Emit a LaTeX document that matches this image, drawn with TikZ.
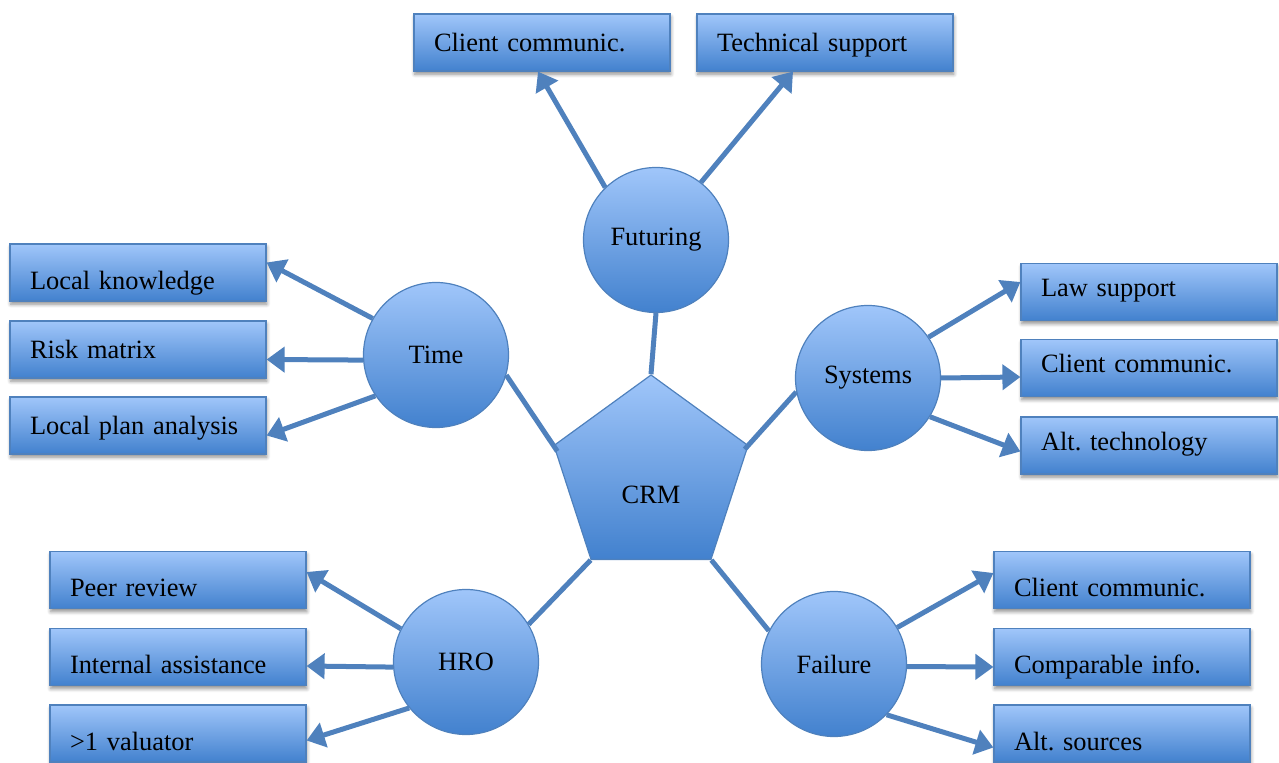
\documentclass[tikz,border=0pt]{standalone}
\usepackage{fontspec}
\setmainfont{Liberation Serif}
\usepackage{tikz}
\usetikzlibrary{shapes.geometric,arrows.meta,shadows.blur}
\definecolor{lineblue}{RGB}{79,129,189}
\definecolor{filltop}{RGB}{160,198,250}
\definecolor{fillbot}{RGB}{66,129,206}
\tikzset{
every node/.style={font=\fontsize{13.2}{15}\selectfont\frenchspacing},
shade/.style={top color=filltop,bottom color=fillbot,draw=lineblue,line width=0.6pt},
box/.style={
  shade,
  rectangle,
  text width=108pt,
  align=left,
  inner xsep=10pt,
  inner ysep=0pt,
  text height=9pt,
  text depth=0pt,
  minimum height=28.5pt,
  blur shadow={shadow xshift=0.4pt,shadow yshift=-1.6pt,shadow blur steps=6,shadow opacity=45}
},
low/.style={text height=17pt},
high/.style={text depth=4pt},
hub/.style={shade,circle,minimum size=72.5pt,inner sep=0pt},
penta/.style={shade,regular polygon,regular polygon sides=5,minimum size=102pt,inner sep=0pt},
link/.style={draw=lineblue,line width=2.5pt},
arr/.style={link,-{Triangle[length=9pt,width=12.5pt]}}
}

\begin{document}
\begin{tikzpicture}[x=0.5pt,y=-0.5pt]
\useasboundingbox (0,0) rectangle (1279,763);
% centre and the five hubs
\node[penta,label={[yshift=-9pt]center:CRM}] (crm) at (651,477) {};
\node[hub] (fut) at (656,240) {Futuring};
\node[hub] (time) at (436,355) {Time};
\node[hub] (sys) at (868,378) {Systems};
\node[hub] (hro) at (466,662) {HRO};
\node[hub] (fail) at (834,664) {Failure};
% the boxes
\node[box] (futcc) at (542,42.5) {Client communic.};
\node[box] (futts) at (825,42.5) {Technical support};
\node[box,low] (timelk) at (138,272.5) {Local knowledge};
\node[box] (timerm) at (138,349.5) {Risk matrix};
\node[box] (timelp) at (138,425.5) {Local plan analysis};
\node[box,high] (sysls) at (1149,292) {Law support};
\node[box,high] (syscc) at (1149,368) {Client communic.};
\node[box,high] (sysat) at (1149,445.5) {Alt. technology};
\node[box,low] (hropr) at (178,580) {Peer review};
\node[box,low] (hroia) at (178,657) {Internal assistance};
\node[box,low] (hrovl) at (178,733.5) {>1 valuator};
\node[box,low] (failcc) at (1122,580) {Client communic.};
\node[box,low] (failci) at (1122,657) {Comparable info.};
\node[box,low] (failas) at (1122,733.5) {Alt. sources};
% hubs to the centre
\draw[link] (fut.south) -- (crm.corner 1);
\draw[link] (time.-16) -- ([shift={(2pt,-3pt)}]crm.corner 2);
\draw[link] (sys.191) -- ([shift={(-2pt,-2pt)}]crm.corner 5);
\draw[link] (hro.31) -- (crm.corner 3);
\draw[link] (fail.153) -- (crm.corner 4);
% hubs to the boxes
\draw[arr] (fut.134) -- ([xshift=-2pt]futcc.south);
\draw[arr] (fut.52) -- ([xshift=-16pt]futts.south);
\foreach \from/\to/\dy in {time.150/timelk/5,time.184/timerm/-5,time.214/timelp/-5,
  hro.153/hropr/4,hro.184/hroia/-4.5,hro.219/hrovl/-3.5}
{
  \draw[arr] (\from) -- ([yshift=\dy pt]\to.east);
}
\foreach \from/\to/\dy in {sys.34/sysls/5,sys.0/syscc/-4.5,sys.-32/sysat/-3,
  fail.30/failcc/3.5,fail.-2/failci/-5,fail.-44/failas/-7}
{
  \draw[arr] (\from) -- ([yshift=\dy pt]\to.west);
}
\end{tikzpicture}
\end{document}
